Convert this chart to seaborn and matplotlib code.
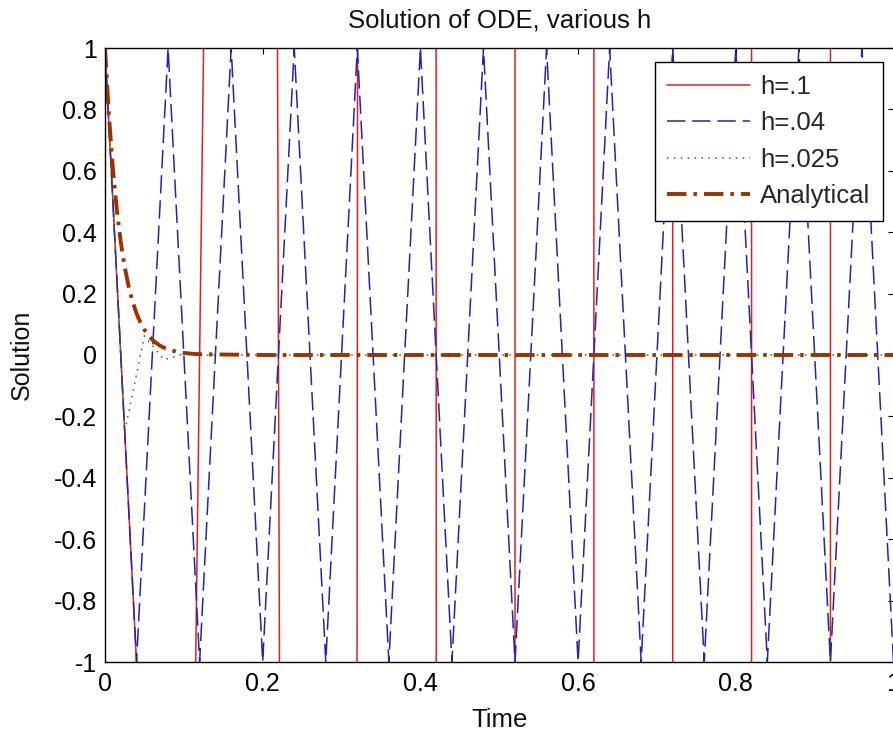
import matplotlib
matplotlib.use("Agg")
import matplotlib.pyplot as plt
import seaborn as sns
import pandas as pd

# ---- data ----
t_h1 = [0.0, 0.1, 0.2, 0.3, 0.4, 0.5, 0.6, 0.7, 0.8, 0.9, 1.0]
y_h1 = [1, -4, 16, -64, 256, -1024, 4096, -16384, 65536, -262144, 1048576]

t_h04 = [0.0, 0.04, 0.08, 0.12, 0.16, 0.20, 0.24, 0.28, 0.32, 0.36, 0.40, 0.44, 0.48,
         0.52, 0.56, 0.60, 0.64, 0.68, 0.72, 0.76, 0.80, 0.84, 0.88, 0.92, 0.96, 1.00]
y_h04 = [1, -1, 1, -1, 1, -1, 1, -1, 1, -1, 1, -1, 1,
         -1, 1, -1, 1, -1, 1, -1, 1, -1, 1, -1, 1, -1]

t_h025 = [0.0, 0.025, 0.05, 0.075, 0.1, 0.125, 0.15, 0.175, 0.2, 0.3, 0.4, 0.5,
          0.6, 0.7, 0.8, 0.9, 1.0]
y_h025 = [1, -0.25, 0.0625, -0.0156, 0.0039, -0.001, 0.0002, -0.0001, 0.0, 0.0, 0.0, 0.0,
          0.0, 0.0, 0.0, 0.0, 0.0]

t_an = [0.0, 0.005, 0.01, 0.015, 0.02, 0.025, 0.03, 0.035, 0.04, 0.045, 0.05, 0.055,
        0.06, 0.065, 0.07, 0.075, 0.08, 0.09, 0.1, 0.11, 0.12, 0.2, 0.4, 0.6, 0.8, 1.0]
y_an = [1.0, 0.7788, 0.6065, 0.4724, 0.3679, 0.2865, 0.2231, 0.1738, 0.1353, 0.1054,
        0.0821, 0.0639, 0.0498, 0.0388, 0.0302, 0.0235, 0.0183, 0.0111, 0.0067, 0.0041,
        0.0025, 0.0, 0.0, 0.0, 0.0, 0.0]

labels = ["h=.1", "h=.04", "h=.025", "Analytical"]
x_ticks = [0, 0.2, 0.4, 0.6, 0.8, 1.0]
x_ticklabels = ["0", "0.2", "0.4", "0.6", "0.8", "1"]
y_ticks = [-1, -0.8, -0.6, -0.4, -0.2, 0, 0.2, 0.4, 0.6, 0.8, 1]
y_ticklabels = ["-1", "-0.8", "-0.6", "-0.4", "-0.2", "0", "0.2", "0.4", "0.6", "0.8", "1"]

sns.set_theme(style="white")
plt.rcParams["font.family"] = ["Liberation Sans", "DejaVu Sans"]
plt.rcParams["axes.unicode_minus"] = False

W, H = 893, 735
fig = plt.figure(figsize=(W / 100, H / 100), dpi=100, facecolor="white")
ax = fig.add_axes([105 / W, (H - 662) / H, 788.5 / W, 614 / H])
ax.set_facecolor("white")

df1 = pd.DataFrame({"t": t_h1, "y": y_h1})
df2 = pd.DataFrame({"t": t_h04, "y": y_h04})
df3 = pd.DataFrame({"t": t_h025, "y": y_h025})
df4 = pd.DataFrame({"t": t_an, "y": y_an})

sns.lineplot(data=df1, x="t", y="y", ax=ax, color="#e02020", linewidth=1.1,
             estimator=None, sort=False, label=labels[0])
sns.lineplot(data=df2, x="t", y="y", ax=ax, color="#2424a8", linewidth=1.1,
             linestyle=(0, (12, 4.5)), estimator=None, sort=False, label=labels[1])
sns.lineplot(data=df3, x="t", y="y", ax=ax, color="#1a801a", linewidth=1.1,
             linestyle=(0, (1, 3.5)), estimator=None, sort=False, label=labels[2])
sns.lineplot(data=df4, x="t", y="y", ax=ax, color="#993300", linewidth=2.8,
             linestyle=(0, (5.0, 1.8, 0.9, 1.8)), estimator=None, sort=False,
             label=labels[3])

ax.set_xlim(0, 1)
ax.set_ylim(-1, 1)
ax.set_xticks(x_ticks)
ax.set_xticklabels(x_ticklabels)
ax.set_yticks(y_ticks)
ax.set_yticklabels(y_ticklabels)
ax.tick_params(direction="in", top=True, right=True, length=4.5, width=0.8,
               labelsize=18, colors="black")
ax.tick_params(axis="y", pad=6)
ax.tick_params(axis="x", pad=7)
for sp in ax.spines.values():
    sp.set_color("black")
    sp.set_linewidth(1.0)
    sp.set_visible(True)

ax.set_title("Solution of ODE, various h", fontsize=18.5, pad=15, color="#111111")
ax.set_xlabel("Time", fontsize=18.5, labelpad=9, color="#111111")
ax.set_ylabel("Solution", fontsize=18, labelpad=14, color="#111111")
ax.grid(False)

leg = ax.legend(loc="upper right", bbox_to_anchor=((883 - 105) / 788.5, (662 - 62) / 614),
                borderaxespad=0, fontsize=18.5, frameon=True, fancybox=False,
                edgecolor="black", facecolor="white", framealpha=1,
                handlelength=3.2, handletextpad=0.4, labelspacing=0.48,
                borderpad=0.5)
leg.get_frame().set_linewidth(1.0)

fig.savefig("out.png", dpi=100, facecolor="white")
